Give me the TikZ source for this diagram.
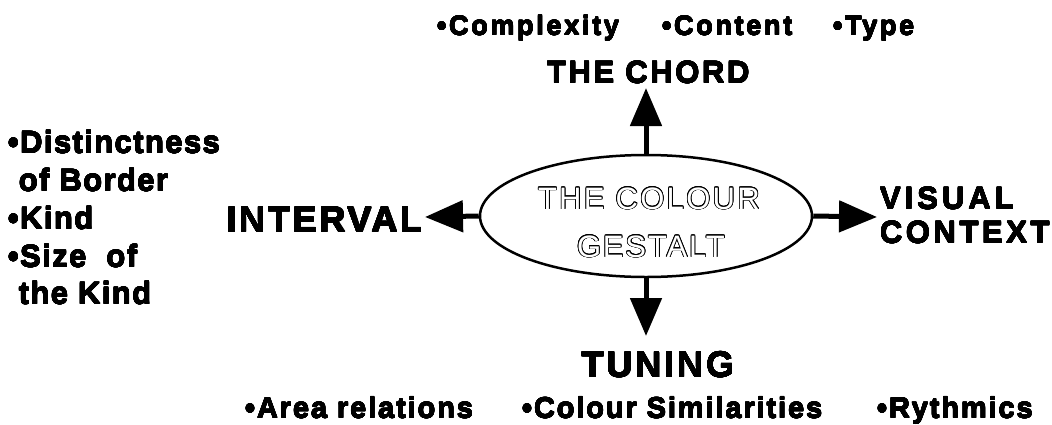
\documentclass[tikz,border=0pt]{standalone}
\usepackage{fontspec}
\setmainfont{Liberation Sans}[BoldFont={Liberation Sans Bold}]
\usepackage{contour}
\contourlength{0.75pt}
\usetikzlibrary{shapes.geometric,arrows.meta}
\newcommand{\lsp}[2]{{\addfontfeature{LetterSpace=#1}#2}}
\newcommand{\heavy}[2]{{\contourlength{0.25pt}\contour{black}{\lsp{#1}{#2}}}}
\tikzset{
  txt/.style={anchor=base west, inner sep=0pt, outer sep=0pt},
  big/.style={txt, font=\fontsize{36}{40}\selectfont\bfseries},
  mid/.style={txt, font=\fontsize{31}{36}\selectfont\bfseries},
  small/.style={txt, font=\fontsize{27}{32}\selectfont\bfseries},
  bot/.style={txt, font=\fontsize{29}{34}\selectfont\bfseries},
  arr/.style={line width=5pt, -{Triangle[length=38pt,width=31pt]}},
  ell/.style={ellipse, draw, line width=2.5pt, minimum width=332pt, minimum height=122pt, inner sep=0pt}
}
\begin{document}
\begin{tikzpicture}[x=1pt,y=-1pt]
\useasboundingbox[fill=white] (0,0) rectangle (1052,424);
% central ellipse
\node[ell] (ell) at (646,216) {};
\node[txt, font=\fontsize{31}{36}\selectfont] (t1) at (538,209) {\contour{black}{\textcolor{white}{\lsp{7.5}{THE COLOUR}}}};
\node[txt, font=\fontsize{31}{36}\selectfont] (t2) at (577,257) {\contour{black}{\textcolor{white}{\lsp{6}{GESTALT}}}};
% arrow end points
\coordinate (upTip) at (646,88);
\coordinate (leftTip) at (425,217);
\coordinate (rightTip) at (877,217);
\coordinate (downTip) at (646,336);
\draw[arr] (ell.north) -- (upTip);
\draw[arr] (ell.west) -- (leftTip);
\draw[arr] (ell.east) -- (rightTip);
\draw[arr] (ell.south) -- (downTip);
% the chord
\node[mid] (chord) at (547,83) {\heavy{8.4}{THE CHORD}};
\node[small] (c1) at (437,35) {\heavy{10}{•Complexity}};
\node[small] (c2) at (662,35) {\heavy{10}{•Content}};
\node[small] (c3) at (833,35) {\heavy{10}{•Type}};
% interval
\node[big] (interval) at (227,232) {\heavy{7.5}{INTERVAL}};
\node[mid] (i1) at (8,153) {\heavy{4.5}{•Distinctness}};
\node[mid] (i2) at (8,191) {\heavy{4.5}{\phantom{•}of Border}};
\node[mid] (i3) at (8,229) {\heavy{4.5}{•Kind}};
\node[mid] (i4) at (8,267) {\heavy{4.5}{•Size\ \ of}};
\node[mid] (i5) at (8,304) {\heavy{4.5}{\phantom{•}the Kind}};
% visual context
\node[mid] (vis) at (880,209) {\heavy{13}{VISUAL}};
\node[mid] (ctx) at (880,243) {\heavy{11.5}{CONTEXT}};
% tuning
\node[big] (tuning) at (582,377) {\heavy{8}{TUNING}};
\node[bot] (b1) at (245,418) {\heavy{6.5}{•Area relations}};
\node[bot] (b2) at (522,418) {\heavy{6.5}{•Colour Similarities}};
\node[bot] (b3) at (877,418) {\heavy{6.5}{•Rythmics}};
\end{tikzpicture}
\end{document}
